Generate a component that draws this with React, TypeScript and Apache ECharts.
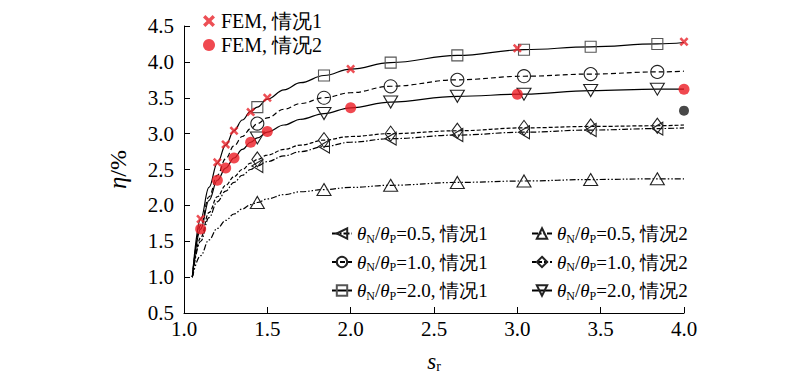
import React, { useEffect, useRef } from "react";
import * as echarts from "echarts";

// ---- data ----
const sCurve = [1.05, 1.1, 1.15, 1.2, 1.25, 1.3, 1.35, 1.4, 1.44, 1.5, 1.6, 1.7, 1.84, 2.0, 2.24, 2.64, 3.04, 3.44, 3.84, 4.0];
const markerS = [1.44, 1.84, 2.24, 2.64, 3.04, 3.44, 3.84];

const r20c1 = [1.0, 1.81, 2.25, 2.59, 2.84, 3.04, 3.19, 3.31, 3.37, 3.48, 3.61, 3.71, 3.81, 3.90, 3.99, 4.09, 4.17, 4.21, 4.25, 4.27];
const r10c1 = [1.0, 1.72, 2.12, 2.42, 2.65, 2.83, 2.96, 3.07, 3.14, 3.22, 3.34, 3.42, 3.50, 3.57, 3.66, 3.75, 3.80, 3.83, 3.86, 3.87];
const r20c2 = [1.0, 1.67, 2.07, 2.35, 2.52, 2.66, 2.78, 2.88, 2.94, 3.02, 3.12, 3.20, 3.28, 3.36, 3.44, 3.52, 3.55, 3.60, 3.62, 3.62];
const r10c2 = [1.0, 1.55, 1.90, 2.12, 2.28, 2.40, 2.50, 2.59, 2.64, 2.70, 2.78, 2.84, 2.91, 2.96, 3.00, 3.04, 3.08, 3.10, 3.11, 3.12];
const r05c1 = [1.0, 1.50, 1.83, 2.05, 2.20, 2.32, 2.42, 2.50, 2.55, 2.61, 2.69, 2.75, 2.82, 2.88, 2.93, 2.98, 3.02, 3.05, 3.07, 3.08];
const r05c2 = [1.0, 1.30, 1.52, 1.68, 1.79, 1.88, 1.95, 2.01, 2.04, 2.09, 2.15, 2.19, 2.22, 2.25, 2.28, 2.32, 2.34, 2.36, 2.37, 2.37];

const femS = [1.1, 1.2, 1.25, 1.3, 1.4, 1.5, 2.0, 3.0, 4.0];
const fem1 = [1.81, 2.6, 2.85, 3.04, 3.3, 3.5, 3.9, 4.19, 4.28];
const fem2 = [1.67, 2.35, 2.52, 2.66, 2.88, 3.03, 3.36, 3.55, 3.62];
const extraS = [4.0];
const extraV = [3.32];

const xTicks = [1.0, 1.5, 2.0, 2.5, 3.0, 3.5, 4.0];
const yTicks = [0.5, 1.0, 1.5, 2.0, 2.5, 3.0, 3.5, 4.0, 4.5];

const legendText: Record<string, string> = {
  r05c1: "{t|θ}{s|N}{n|/}{t|θ}{s|P}{n|=0.5, 情况1}",
  r10c1: "{t|θ}{s|N}{n|/}{t|θ}{s|P}{n|=1.0, 情况1}",
  r20c1: "{t|θ}{s|N}{n|/}{t|θ}{s|P}{n|=2.0, 情况1}",
  r05c2: "{t|θ}{s|N}{n|/}{t|θ}{s|P}{n|=0.5, 情况2}",
  r10c2: "{t|θ}{s|N}{n|/}{t|θ}{s|P}{n|=1.0, 情况2}",
  r20c2: "{t|θ}{s|N}{n|/}{t|θ}{s|P}{n|=2.0, 情况2}",
};

const FONT = "Liberation Serif";
const CROSS = "path://M0,2L2,0L5,3L8,0L10,2L7,5L10,8L8,10L5,7L2,10L0,8L3,5Z";

const richStyles = {
  t: { fontFamily: FONT, fontSize: 19, fontStyle: "italic", color: "#000", lineHeight: 22 },
  n: { fontFamily: FONT, fontSize: 19, color: "#000", lineHeight: 22 },
  s: { fontFamily: FONT, fontSize: 12, color: "#000", verticalAlign: "bottom" },
};

function curve(name: string, ys: number[], symbol: string, size: any, rotate: number, dash: any, borderColor = "#222") {
  return {
    name,
    type: "line",
    smooth: 0.4,
    smoothMonotone: "x",
    symbol,
    symbolSize: size,
    symbolRotate: rotate,
    showSymbol: true,
    showAllSymbol: true,
    lineStyle: { color: "#000", width: 1.2, type: dash },
    itemStyle: { color: "rgba(0,0,0,0)", borderColor, borderWidth: 1.1 },
    emphasis: { disabled: true },
    z: 2,
    data: sCurve.map((s, i) => ({
      value: [s, ys[i]],
      symbol: markerS.includes(s) ? symbol : "none",
    })),
  };
}

export default function App() {
  const ref = useRef<HTMLDivElement>(null);
  useEffect(() => {
    if (!ref.current) return;
    const chart = echarts.init(ref.current, null, { renderer: "svg" });
    const legendCommon = {
      orient: "vertical",
      itemWidth: 20,
      itemHeight: 13,
      itemGap: 8,
      textStyle: { fontFamily: FONT, fontSize: 19, color: "#000", rich: richStyles },
      formatter: (n: string) => legendText[n] || n,
      selectedMode: false,
    };
    chart.setOption({
      animation: false,
      backgroundColor: "#fff",
      textStyle: { fontFamily: FONT },
      grid: { left: 184, right: 116, top: 26, bottom: 77, containLabel: false },
      legend: [
        {
          orient: "vertical",
          left: 198,
          top: 6,
          itemWidth: 14,
          itemHeight: 12,
          itemGap: 4,
          selectedMode: false,
          textStyle: { fontFamily: FONT, fontSize: 20, color: "#000" },
          data: ["FEM, 情况1", "FEM, 情况2"],
        },
        { ...legendCommon, left: 326, top: 219, data: ["r05c1", "r10c1", "r20c1"] },
        { ...legendCommon, left: 526, top: 219, data: ["r05c2", "r10c2", "r20c2"] },
      ],
      xAxis: {
        type: "value",
        min: 1.0,
        max: 4.0,
        interval: 0.5,
        name: "{i|s}{s|r}",
        nameLocation: "middle",
        nameGap: 36,
        nameTextStyle: {
          rich: {
            i: { fontFamily: FONT, fontSize: 23, fontStyle: "italic", color: "#000", lineHeight: 24 },
            s: { fontFamily: FONT, fontSize: 14, color: "#000", verticalAlign: "bottom" },
          },
        },
        axisLine: { lineStyle: { color: "#000", width: 1 } },
        axisTick: { inside: true, length: 6, lineStyle: { color: "#000" } },
        axisLabel: {
          fontFamily: FONT,
          fontSize: 21,
          color: "#000",
          margin: 5,
          formatter: (v: number) => (xTicks.includes(v) ? v.toFixed(1) : ""),
        },
        splitLine: { show: false },
      },
      yAxis: {
        type: "value",
        min: 0.5,
        max: 4.5,
        interval: 0.5,
        name: "{i|η}{n|/%}",
        nameLocation: "middle",
        nameGap: 54,
        nameRotate: 90,
        nameTextStyle: {
          rich: {
            i: { fontFamily: FONT, fontSize: 25, fontStyle: "italic", color: "#000" },
            n: { fontFamily: FONT, fontSize: 24, color: "#000" },
          },
        },
        axisLine: { show: true, lineStyle: { color: "#000", width: 1 } },
        axisTick: { show: true, inside: true, length: 6, lineStyle: { color: "#000" } },
        axisLabel: {
          fontFamily: FONT,
          fontSize: 21,
          color: "#000",
          margin: 10,
          formatter: (v: number) => (yTicks.includes(v) ? v.toFixed(1) : ""),
        },
        splitLine: { show: false },
      },
      series: [
        curve("r05c1", r05c1, "triangle", [13, 11], 90, [6, 2, 1.5, 2]),
        curve("r10c1", r10c1, "circle", 13, 0, [5, 3]),
        curve("r20c1", r20c1, "rect", 11, 0, "solid", "#555"),
        curve("r05c2", r05c2, "triangle", [14, 12], 0, [6, 2, 1.5, 2, 1.5, 2]),
        curve("r10c2", r10c2, "diamond", [11, 15], 0, [4, 2]),
        curve("r20c2", r20c2, "triangle", [14, 12], 180, "solid"),
        {
          name: "FEM, 情况1",
          type: "scatter",
          symbol: CROSS,
          symbolSize: 9,
          itemStyle: { color: "#e8232a" },
          z: 5,
          data: femS.map((s, i) => [s, fem1[i]]),
        },
        {
          name: "FEM, 情况2",
          type: "scatter",
          symbol: "circle",
          symbolSize: 11,
          itemStyle: { color: "#ec1c24" },
          z: 5,
          data: femS.map((s, i) => [s, fem2[i]]),
        },
        {
          name: "extra",
          type: "scatter",
          symbol: "circle",
          symbolSize: 10,
          itemStyle: { color: "#1a1a1a" },
          z: 5,
          data: extraS.map((s, i) => [s, extraV[i]]),
        },
      ],
    });
    return () => chart.dispose();
  }, []);
  return <div ref={ref} style={{ width: 800, height: 390, position: "absolute", left: 0, top: 0 }} />;
}
